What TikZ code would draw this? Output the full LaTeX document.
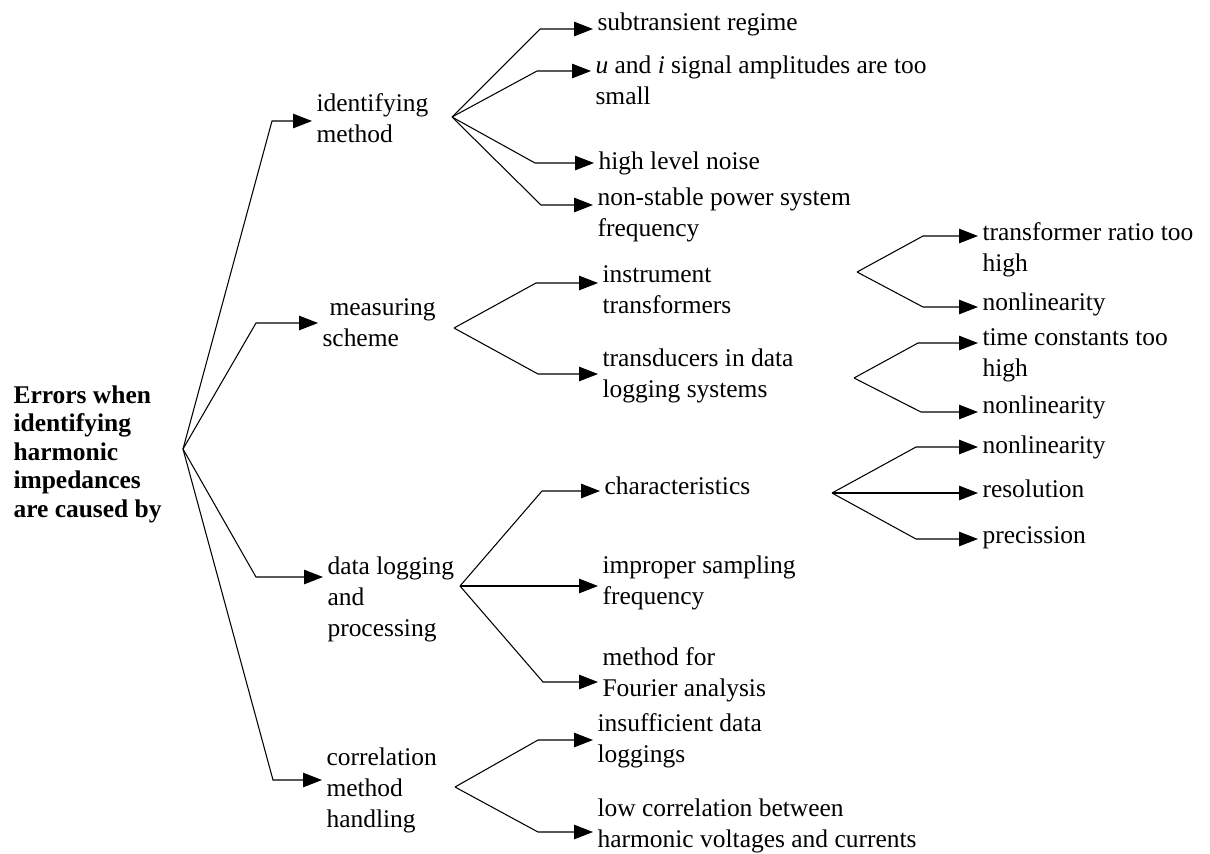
\documentclass[tikz,border=0pt]{standalone}
\usepackage{fontspec}
\setmainfont{Liberation Serif}
\usetikzlibrary{arrows.meta}

\begin{document}
\begin{tikzpicture}[x=0.02cm,y=-0.02cm,line width=0.6pt,
    every node/.style={anchor=base west,align=left,inner sep=0.08cm,
      font=\fontsize{14.5pt}{17.1pt}\selectfont},
    root/.style={font=\fontsize{14.5pt}{16.2pt}\selectfont\bfseries},
    first/.style={font=\fontsize{14.5pt}{17.6pt}\selectfont},
    arr/.style={-{Triangle[length=0.38cm,width=0.29cm]}}]

    \useasboundingbox (0,0) rectangle (1210,853);

    \node[root] (nRoot) at (9,517) {Errors when\\identifying\\harmonic\\impedances\\are caused by};

    \node[first] (nId) at (312,142) {identifying\\method};
    \node[first] (nMeas) at (318,346) {\hspace*{0.14cm}measuring\\scheme};
    \node[first] (nData) at (323,636) {data logging\\and\\processing};
    \node[first] (nCorr) at (322,827) {correlation\\method\\handling};

    \node (nSub) at (593,30) {subtransient regime};
    \node (nAmp) at (591,104) {\textit{u} and \textit{i} signal amplitudes are too\\small};
    \node (nNoise) at (594,169) {high level noise};
    \node (nFreq) at (593,236) {non-stable power system\\frequency};
    \node (nInstr) at (598,313) {instrument\\transformers};
    \node (nTrans) at (598,397) {transducers in data\\logging systems};
    \node (nChar) at (600,494) {characteristics};
    \node (nSamp) at (598,604) {improper sampling\\frequency};
    \node (nFour) at (598,696) {method for\\Fourier analysis};
    \node (nInsuf) at (593,762) {insufficient data\\loggings};
    \node (nLow) at (593,847) {low correlation between\\harmonic voltages and currents};

    \node (nRatio) at (978,271) {transformer ratio too\\high};
    \node (nLinA) at (978,310) {nonlinearity};
    \node (nConst) at (978,376) {time constants too\\high};
    \node (nLinB) at (978,413) {nonlinearity};
    \node (nLinC) at (978,453) {nonlinearity};
    \node (nRes) at (978,497) {resolution};
    \node (nPrec) at (978,543) {precission};

    \coordinate (cRoot) at (183,449);
    \coordinate (cId) at (452,117);
    \coordinate (cMeas) at (454,328);
    \coordinate (cData) at (460,586);
    \coordinate (cCorr) at (455,787);
    \coordinate (cInstr) at (857,272);
    \coordinate (cTrans) at (854,378);
    \coordinate (cChar) at (832,493);

    \draw[arr] (cRoot) -- (272,121) -- (272,121 -| nId.west);
    \draw[arr] (cRoot) -- (256,323) -- (256,323 -| nMeas.west);
    \draw[arr] (cRoot) -- (256,577) -- (256,577 -| nData.west);
    \draw[arr] (cRoot) -- (273,780) -- (273,780 -| nCorr.west);

    \draw[arr] (cId) -- (540,29) -- (540,29 -| nSub.west);
    \draw[arr] (cId) -- (537,71) -- (537,71 -| nAmp.west);
    \draw[arr] (cId) -- (535,163) -- (535,163 -| nNoise.west);
    \draw[arr] (cId) -- (541,205) -- (541,205 -| nFreq.west);

    \draw[arr] (cMeas) -- (536,283) -- (536,283 -| nInstr.west);
    \draw[arr] (cMeas) -- (538,374) -- (538,374 -| nTrans.west);

    \draw[arr] (cData) -- (542,491) -- (542,491 -| nChar.west);
    \draw[arr] (cData) -- (cData -| nSamp.west);
    \draw[arr] (cData) -- (543,682) -- (543,682 -| nFour.west);

    \draw[arr] (cCorr) -- (538,740) -- (538,740 -| nInsuf.west);
    \draw[arr] (cCorr) -- (538,832) -- (538,832 -| nLow.west);

    \draw[arr] (cInstr) -- (923,236) -- (923,236 -| nRatio.west);
    \draw[arr] (cInstr) -- (923,307) -- (923,307 -| nLinA.west);
    \draw[arr] (cTrans) -- (918,343) -- (918,343 -| nConst.west);
    \draw[arr] (cTrans) -- (921,412) -- (921,412 -| nLinB.west);
    \draw[arr] (cChar) -- (916,447) -- (916,447 -| nLinC.west);
    \draw[arr] (cChar) -- (cChar -| nRes.west);
    \draw[arr] (cChar) -- (916,539) -- (916,539 -| nPrec.west);
\end{tikzpicture}
\end{document}
